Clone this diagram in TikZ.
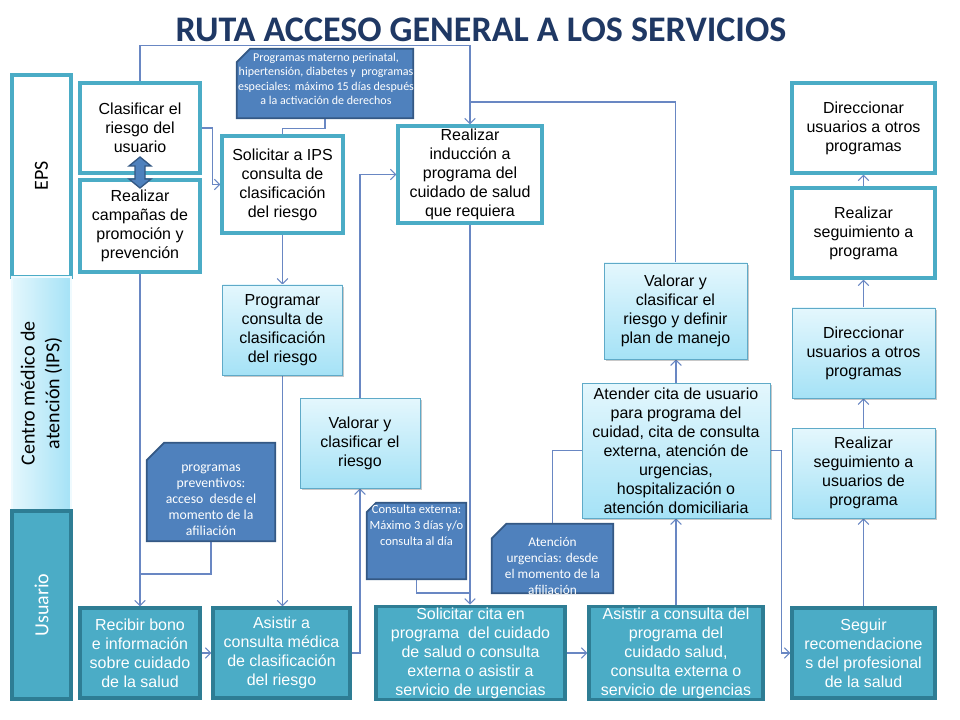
\documentclass[tikz,border=0pt]{standalone}
\usepackage{fontspec}
\setmainfont{Liberation Sans}
\newfontfamily\calib{Carlito}
\usetikzlibrary{arrows.meta,shadows}
\pgfdeclarelayer{background}
\pgfsetlayers{background,main}
\definecolor{tealA}{RGB}{75,172,198}
\definecolor{tealD}{RGB}{46,125,148}
\definecolor{ipsTop}{RGB}{228,247,253}
\definecolor{ipsBot}{RGB}{165,226,246}
\definecolor{ipsLine}{RGB}{95,170,200}
\definecolor{noteFill}{RGB}{79,129,189}
\definecolor{noteLine}{RGB}{52,88,132}
\definecolor{connC}{RGB}{105,135,195}
\definecolor{titleC}{RGB}{31,56,100}
\tikzset{
  boxtext/.style={align=center,inner sep=1pt,font=\fontsize{12}{14.25}\selectfont},
  epsbox/.style={boxtext,draw=tealA,line width=2.3pt,fill=white},
  ipsbox/.style={boxtext,draw=ipsLine,line width=0.7pt,top color=ipsTop,bottom color=ipsBot,
     drop shadow={shadow xshift=1.2pt,shadow yshift=-1.2pt,opacity=0.3,fill=black!70}},
  usrbox/.style={boxtext,draw=tealD,line width=2.3pt,fill=tealA,text=white},
  noteframe/.style={inner sep=0pt},
  noteshape/.style={draw=noteLine,line width=1.3pt,fill=noteFill},
  notetext/.style={align=center,text=white,inner sep=0pt},
  conn/.style={draw=connC,line width=0.8pt},
  arr/.style={conn,-{Straight Barb[length=4pt,width=8pt]}},
  std/.style={minimum width=90pt,minimum height=67.5pt},
  wide/.style={minimum width=107.25pt,minimum height=67.5pt}
}
\begin{document}
\begin{tikzpicture}[x=0.75pt,y=-0.75pt]
\useasboundingbox (0,0) rectangle (960,720);

% title
\node[font=\calib\bfseries\fontsize{27}{30}\selectfont,text=titleC] (title) at (481,30) {RUTA ACCESO GENERAL A LOS SERVICIOS};

% lanes
\node[draw=tealA,line width=2.3pt,fill=white,minimum width=44.25pt,minimum height=151.5pt] (laneA) at (41.5,176) {};
\node[rotate=90,font=\calib\fontsize{15}{17}\selectfont] (laneAt) at (laneA) {EPS};
\node[draw=ipsTop!60!white,line width=1.5pt,left color=ipsTop,right color=ipsBot,minimum width=44.25pt,minimum height=174.75pt] (laneB) at (41.5,393.5) {};
\node[rotate=90,align=center,font=\calib\fontsize{15}{18.5}\selectfont] (laneBt) at (laneB) {Centro médico de\\atención (IPS)};
\node[draw=tealD,line width=2.3pt,fill=tealA,minimum width=44.25pt,minimum height=141pt] (laneC) at (41.5,605) {};
\node[rotate=90,text=white,font=\calib\fontsize{15}{18}\selectfont] (laneCt) at (laneC) {Usuario};

% EPS boxes
\node[epsbox,std] (clas) at (140,128) {Clasificar el\\riesgo del\\usuario};
\node[epsbox,minimum width=90pt,minimum height=69pt] (camp) at (140,226) {Realizar\\campañas de\\promoción y\\prevención};
\node[epsbox,minimum width=90.75pt,minimum height=72.75pt] (soli) at (282.5,184.5) {Solicitar a IPS\\consulta de\\clasificación\\del riesgo};
\node[epsbox,minimum width=108pt,minimum height=72.75pt] (indu) at (470,174.5) {Realizar\\inducción a\\programa del\\cuidado de salud\\que requiera};
\node[epsbox,wide] (dirA) at (863.5,128) {Direccionar\\usuarios a otros\\programas};
\node[epsbox,wide] (segA) at (863.5,233) {Realizar\\seguimiento a\\programa};

% IPS boxes
\node[ipsbox,std] (prog) at (282.5,330) {Programar\\consulta de\\clasificación\\del riesgo};
\node[ipsbox,std] (valA) at (360,443) {Valorar y\\clasificar el\\riesgo};
\node[ipsbox,minimum width=107.25pt,minimum height=72pt] (valB) at (675.5,311) {Valorar y\\clasificar el\\riesgo y definir\\plan de manejo};
\node[ipsbox,minimum width=141pt,minimum height=101.25pt] (aten) at (676,450.5) {Atender cita de usuario\\para programa del\\cuidad, cita de consulta\\externa, atención de\\urgencias,\\hospitalización o\\atención domiciliaria};
\node[ipsbox,wide] (dirB) at (863.5,353) {Direccionar\\usuarios a otros\\programas};
\node[ipsbox,wide] (segB) at (863.5,473) {Realizar\\seguimiento a\\usuarios de\\programa};

% Usuario boxes
\node[usrbox,std] (reci) at (140,653) {Recibir bono\\e información\\sobre cuidado\\de la salud};
\node[usrbox,minimum width=102.75pt,minimum height=67.5pt] (asiA) at (281.5,653) {Asistir a\\consulta médica\\de clasificación\\del riesgo};
\node[usrbox,minimum width=141.75pt,minimum height=67.5pt] (solB) at (470.5,653) {Solicitar cita en\\programa\ \ del cuidado\\de salud o consulta\\externa o asistir a\\servicio de urgencias};
\node[usrbox,minimum width=130.5pt,minimum height=67.5pt] (asiB) at (676,653) {Asistir a consulta del\\programa del\\cuidado salud,\\consulta externa o\\servicio de urgencias};
\node[usrbox,wide] (segu) at (863.5,653) {Seguir\\recomendacione\\s del profesional\\de la salud};

% notes (frame node, snipped shape, text node)
\node[noteframe,minimum width=132pt,minimum height=51.75pt] (nA) at (325,83.5) {};
\filldraw[noteshape] ([yshift=-10pt]nA.north west) -- ([xshift=10pt]nA.north west) -- (nA.north east) -- (nA.south east) -- (nA.south west) -- cycle;
\node[notetext,font=\calib\fontsize{9}{10.8}\selectfont] (nAt) at (326,79) {Programas materno perinatal,\\hipertensión, diabetes y\ \ programas\\especiales: máximo 15 días después\\a la activación de derechos};

\node[noteframe,minimum width=96pt,minimum height=73.5pt] (nB) at (211,492) {};
\filldraw[noteshape] ([yshift=-13pt]nB.north west) -- ([xshift=13pt]nB.north west) -- (nB.north east) -- (nB.south east) -- (nB.south west) -- cycle;
\node[notetext,font=\calib\fontsize{10.3}{12}\selectfont] (nBt) at (211,500) {programas\\preventivos:\\acceso\ \ desde el\\momento de la\\afiliación};

\node[noteframe,minimum width=74.25pt,minimum height=57pt] (nC) at (416.5,541) {};
\filldraw[noteshape] ([yshift=-7pt]nC.north west) -- ([xshift=7pt]nC.north west) -- (nC.north east) -- (nC.south east) -- (nC.south west) -- cycle;
\node[notetext,font=\calib\fontsize{9.4}{12}\selectfont] (nCt) at (416.5,525) {Consulta externa:\\Máximo 3 días y/o\\consulta al día};

\node[noteframe,minimum width=90.75pt,minimum height=51.75pt] (nD) at (552.5,558.5) {};
\filldraw[noteshape] ([yshift=-11pt]nD.north west) -- ([xshift=11pt]nD.north west) -- (nD.north east) -- (nD.south east) -- (nD.south west) -- cycle;
\node[notetext,font=\calib\fontsize{10}{12}\selectfont] (nDt) at (552.5,566) {Atención\\urgencias: desde\\el momento de la\\afiliación};

% double block arrow between clas and camp
\filldraw[fill=noteFill,draw=noteLine,line width=1pt]
  (140,157) -- (151,166) -- (145,166) -- (145,179) -- (151,179) -- (140,188)
  -- (129,179) -- (135,179) -- (135,166) -- (129,166) -- cycle;

% junction points
\coordinate (jTop) at (470,102);
\coordinate (jB) at (140,574);
\coordinate (jC) at (470,593);

\begin{pgfonlayer}{background}
\fill[white] (0,0) rectangle (960,720);
\draw[arr] (clas.north) -- ++(0,-36) -| (indu.north);
\draw[conn] (valB.north) |- (jTop);
\draw[arr] (clas.east) -- ++(11,0) |- (soli.west);
\draw[conn] (nA.south) -- ++(0,10) -| (soli.north);
\draw[arr] (soli.south) -- (soli.south |- prog.north);
\draw[arr] (prog.south) -- (prog.south |- asiA.north);
\draw[arr] (camp.south) -- (reci.north);
\draw[conn] (nB.south) |- (jB);
\draw[arr] (reci.east) -- (asiA.west);
\draw[arr] (asiA.east) -| (valA.south);
\draw[arr] (valA.north) |- (indu.west);
\draw[arr] (indu.south) -- (indu.south |- solB.north);
\draw[conn] (nC.south) |- (jC);
\draw[arr] (solB.east) -- (asiB.west);
\draw[arr] (asiB.north) -- (aten.south);
\draw[arr] (aten.north) -- (aten.north |- valB.south);
\draw[conn] (aten.west) -| (nD.north);
\draw[arr] (aten.east) -- ++(11,0) |- (segu.west);
\draw[arr] (segu.north) -- (segB.south);
\draw[arr] (segB.north) -- (dirB.south);
\draw[arr] (dirB.north) -- (segA.south);
\draw[arr] (segA.north) -- (dirA.south);
\end{pgfonlayer}
\end{tikzpicture}
\end{document}
